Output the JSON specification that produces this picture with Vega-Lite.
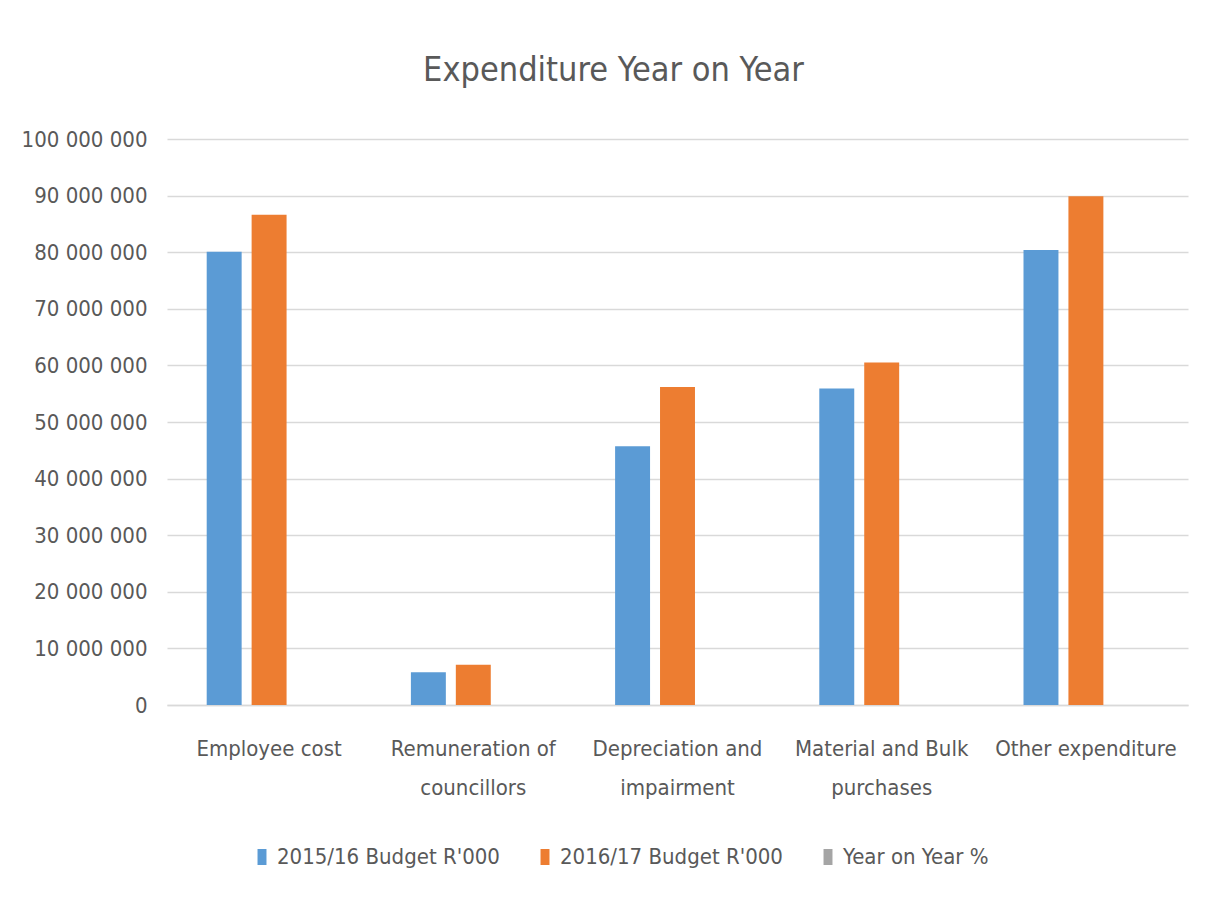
{
  "$schema": "https://vega.github.io/schema/vega-lite/v6.json",
  "width": 1021,
  "height": 566,
  "autosize": {"type": "none"},
  "padding": {"left": 167, "top": 139, "right": 27, "bottom": 201},
  "background": "white",
  "title": {
    "text": "Expenditure Year on Year",
    "fontSize": 34,
    "font": "Liberation Sans Narrow, DejaVu Sans Condensed, Liberation Sans, sans-serif",
    "fontWeight": "normal",
    "color": "#595959",
    "anchor": "middle",
    "dx": -64,
    "offset": 40
  },
  "data": {
    "values": [
      {"category": "Employee cost", "series": "2015/16 Budget R'000", "value": 80100000},
      {"category": "Employee cost", "series": "2016/17 Budget R'000", "value": 86600000},
      {"category": "Employee cost", "series": "Year on Year %", "value": 8.1},
      {"category": "Remuneration of councillors", "series": "2015/16 Budget R'000", "value": 5800000},
      {"category": "Remuneration of councillors", "series": "2016/17 Budget R'000", "value": 7100000},
      {"category": "Remuneration of councillors", "series": "Year on Year %", "value": 22.4},
      {"category": "Depreciation and impairment", "series": "2015/16 Budget R'000", "value": 45700000},
      {"category": "Depreciation and impairment", "series": "2016/17 Budget R'000", "value": 56200000},
      {"category": "Depreciation and impairment", "series": "Year on Year %", "value": 23.0},
      {"category": "Material and Bulk purchases", "series": "2015/16 Budget R'000", "value": 55900000},
      {"category": "Material and Bulk purchases", "series": "2016/17 Budget R'000", "value": 60500000},
      {"category": "Material and Bulk purchases", "series": "Year on Year %", "value": 8.2},
      {"category": "Other expenditure", "series": "2015/16 Budget R'000", "value": 80400000},
      {"category": "Other expenditure", "series": "2016/17 Budget R'000", "value": 89900000},
      {"category": "Other expenditure", "series": "Year on Year %", "value": 11.8}
    ]
  },
  "mark": {"type": "bar"},
  "encoding": {
    "x": {
      "field": "category",
      "type": "nominal",
      "sort": null,
      "title": null,
      "scale": {"paddingInner": 0.34, "paddingOuter": 0.17},
      "axis": {
        "labelAngle": 0,
        "ticks": false,
        "domain": true,
        "domainColor": "#D9D9D9",
        "domainWidth": 1.5,
        "labelPadding": 43,
        "labelFontSize": 22,
        "labelLineHeight": 39,
        "labelColor": "#595959",
        "labelFont": "Liberation Sans Narrow, DejaVu Sans Condensed, Liberation Sans, sans-serif",
        "labelLimit": 300,
        "labelBaseline": "middle",
        "labelExpr": "datum.value == 'Remuneration of councillors' ? ['Remuneration of', 'councillors'] : datum.value == 'Depreciation and impairment' ? ['Depreciation and', 'impairment'] : datum.value == 'Material and Bulk purchases' ? ['Material and Bulk', 'purchases'] : datum.label"
      }
    },
    "xOffset": {
      "field": "series",
      "type": "nominal",
      "sort": ["2015/16 Budget R'000", "2016/17 Budget R'000", "Year on Year %"],
      "scale": {"paddingInner": 0.222, "paddingOuter": 0.111}
    },
    "y": {
      "field": "value",
      "type": "quantitative",
      "title": null,
      "scale": {"domain": [0, 100000000], "nice": false},
      "axis": {
        "values": [0, 10000000, 20000000, 30000000, 40000000, 50000000, 60000000, 70000000, 80000000, 90000000, 100000000],
        "ticks": false,
        "domain": false,
        "gridColor": "#D9D9D9",
        "gridWidth": 1.5,
        "labelPadding": 20,
        "labelFontSize": 22,
        "labelColor": "#595959",
        "labelFont": "Liberation Sans Narrow, DejaVu Sans Condensed, Liberation Sans, sans-serif",
        "labelExpr": "replace(format(datum.value, ','), regexp(',', 'g'), ' ')"
      }
    },
    "color": {
      "field": "series",
      "type": "nominal",
      "scale": {
        "domain": ["2015/16 Budget R'000", "2016/17 Budget R'000", "Year on Year %"],
        "range": ["#5B9BD5", "#ED7D31", "#A5A5A5"]
      },
      "legend": {
        "title": null,
        "orient": "none",
        "direction": "horizontal",
        "legendX": 84,
        "legendY": 707,
        "symbolType": "M-0.56,-1H0.56V1H-0.56Z",
        "symbolSize": 256,
        "symbolStrokeWidth": 0,
        "labelFontSize": 22,
        "labelColor": "#595959",
        "labelFont": "Liberation Sans Narrow, DejaVu Sans Condensed, Liberation Sans, sans-serif",
        "labelOffset": 4,
        "columnPadding": 34,
        "labelLimit": 400
      }
    }
  },
  "config": {"view": {"stroke": null}}
}
